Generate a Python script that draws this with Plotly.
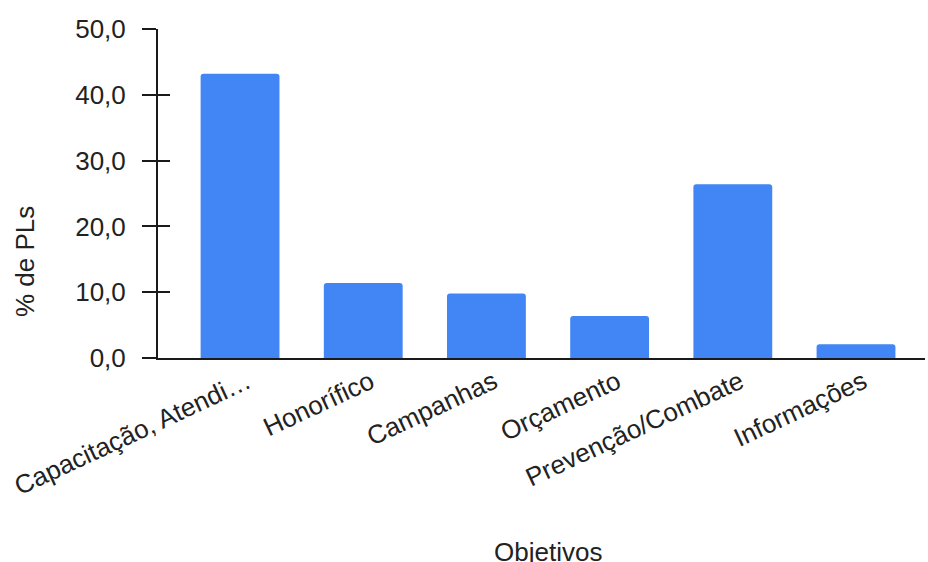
import plotly.graph_objects as go

# Share of bills (PLs) by objective
categorias = ["Capacitação, Atendi…", "Honorífico", "Campanhas", "Orçamento",
              "Prevenção/Combate", "Informações"]
percentuais = [43.2, 11.4, 9.8, 6.4, 26.4, 2.1]

y_ticks = [0, 10, 20, 30, 40, 50]
y_tick_labels = ["0,0", "10,0", "20,0", "30,0", "40,0", "50,0"]

FONT = "Arial, 'Liberation Sans', sans-serif"
TEXT = "#222222"
AXIS = "#1a1a1a"
FS = 26

X_RANGE = [-0.666, 5.56]
LABEL_SHIFT = 0.06  # slanted labels end a little right of each bar centre

fig = go.Figure()
fig.add_trace(go.Bar(
    x=categorias,
    y=percentuais,
    marker=dict(color="#4285F4", line=dict(width=0)),
    hoverinfo="x+y",
))
# empty traces anchoring the overlay axes (inner tick halves, slanted labels)
fig.add_trace(go.Scatter(x=[], y=[], yaxis="y2", showlegend=False, hoverinfo="skip"))
fig.add_trace(go.Scatter(x=[], y=[], xaxis="x2", showlegend=False, hoverinfo="skip"))

fig.update_layout(
    width=928, height=562,
    margin=dict(l=158, r=3, t=29, b=204),
    paper_bgcolor="white", plot_bgcolor="white",
    font=dict(family=FONT, size=FS, color=TEXT),
    showlegend=False,
    bargap=0.36,
    barcornerradius=3,
    xaxis=dict(
        range=X_RANGE,
        showticklabels=False,
        showline=True, linecolor=AXIS, linewidth=2,
        ticks="", showgrid=False, zeroline=False,
        fixedrange=True,
    ),
    xaxis2=dict(
        overlaying="x", side="bottom", anchor="y",
        range=[X_RANGE[0] - LABEL_SHIFT, X_RANGE[1] - LABEL_SHIFT],
        tickmode="array",
        tickvals=list(range(len(categorias))),
        ticktext=categorias,
        tickangle=-25,
        ticklabelstandoff=3,
        tickfont=dict(size=FS, color=TEXT),
        showline=False, ticks="", showgrid=False, zeroline=False,
        fixedrange=True,
    ),
    yaxis=dict(
        range=[0, 50],
        tickvals=y_ticks, ticktext=y_tick_labels,
        ticks="outside", ticklen=14, tickwidth=2, tickcolor=AXIS,
        ticklabelstandoff=11,
        tickfont=dict(size=FS, color=TEXT),
        showline=True, linecolor=AXIS, linewidth=2,
        showgrid=False, zeroline=False,
        fixedrange=True,
    ),
    yaxis2=dict(
        overlaying="y", side="left", anchor="x",
        range=[0, 50],
        tickvals=y_ticks,
        ticks="inside", ticklen=12, tickwidth=2, tickcolor=AXIS,
        showticklabels=False, showline=False,
        showgrid=False, zeroline=False,
        fixedrange=True,
    ),
    annotations=[
        dict(text="Objetivos", xref="paper", yref="paper",
             x=(548 - 158) / 767, y=-(552 - 358) / 329,
             xanchor="center", yanchor="middle", showarrow=False,
             font=dict(size=FS, color=TEXT)),
        dict(text="% de PLs", xref="paper", yref="paper",
             x=-(158 - 25) / 767, y=(358 - 262) / 329,
             xanchor="center", yanchor="middle", textangle=-90, showarrow=False,
             font=dict(size=FS, color=TEXT)),
    ],
)

fig.write_html("out.html")
